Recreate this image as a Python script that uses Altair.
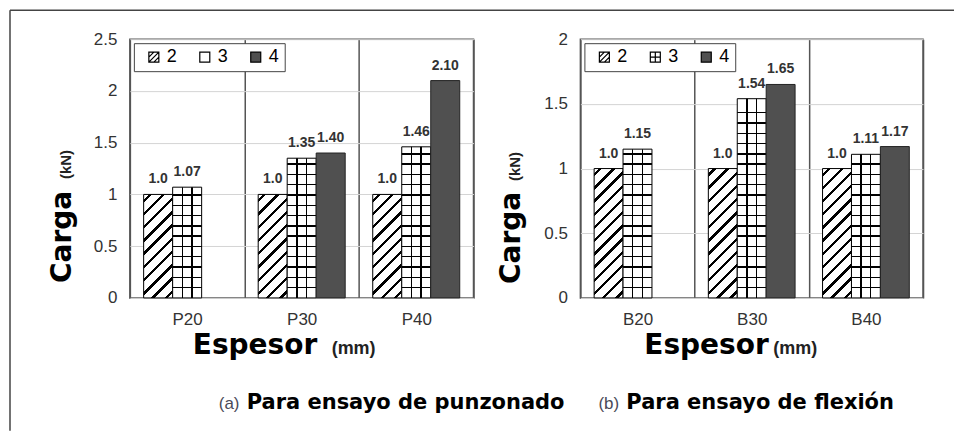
import math
import altair as alt
import pandas as pd

# ---------------- data ----------------
series = ["2", "3", "4"]

cats_a = ["P20", "P30", "P40"]
a_s2 = [1.0, 1.0, 1.0]
a_s3 = [1.07, 1.35, 1.46]
a_s4 = [None, 1.40, 2.10]
a_lab2 = ["1.0", "1.0", "1.0"]
a_lab3 = ["1.07", "1.35", "1.46"]
a_lab4 = [None, "1.40", "2.10"]
ticks_a = [0, 0.5, 1, 1.5, 2, 2.5]

cats_b = ["B20", "B30", "B40"]
b_s2 = [1.0, 1.0, 1.0]
b_s3 = [1.15, 1.54, 1.11]
b_s4 = [None, 1.65, 1.17]
b_lab2 = ["1.0", "1.0", "1.0"]
b_lab3 = ["1.15", "1.54", "1.11"]
b_lab4 = [None, "1.65", "1.17"]
ticks_b = [0, 0.5, 1, 1.5, 2]

# ---------------- layout / style ----------------
PW_A, PW_B, PH, GAP = 344, 343, 259, 107
PAD_OUT = 0.475
DARK = "#505050"

SQ = "M-1,-1H1V1H-1Z"
SYM2 = "M-1,-1H1V1H-1Z M-1,0L0,-1 M-1,1L1,-1 M0,1L1,0"
SYM3_GRID = "M-1,-1H1V1H-1Z M0,-1V1 M-1,0H1"


def bands_stops(bands, bg, fg):
    stops = [{"offset": 0, "color": bg}]
    for c, hw in sorted(bands):
        lo = round(max(0.0, c - hw), 5)
        hi = round(min(1.0, c + hw), 5)
        stops += [{"offset": lo, "color": bg}, {"offset": lo, "color": fg},
                  {"offset": hi, "color": fg}, {"offset": hi, "color": bg}]
    stops.append({"offset": 1, "color": bg})
    return stops


def hatch_grad(w, h, spacing=9.5, thick=2.4):
    d = (w + h) / math.sqrt(2)
    n = max(1, round(d / spacing))
    hw = thick / 2 / d
    bands = [((k + 0.5) / n, hw) for k in range(n)]
    nx, ny = 1 / h, 1 / w
    c = (nx + ny) / (nx * nx + ny * ny)
    return {"gradient": "linear", "x1": 0, "y1": 0,
            "x2": round(c * nx, 5), "y2": round(c * ny, 5),
            "stops": bands_stops(bands, "white", "black")}


def vlines_grad(w, thick=1.4):
    hw = thick / 2 / w
    return {"gradient": "linear", "x1": 0, "y1": 0, "x2": 1, "y2": 0,
            "stops": bands_stops([(1 / 3, hw), (2 / 3, hw)], "white", "black")}


def hlines_grad(h, spacing=10.3, thick=1.4):
    hw = thick / 2 / h
    bands = []
    k = 1
    while k * spacing < h - 4:
        bands.append(((h - k * spacing) / h, hw))
        k += 1
    return {"gradient": "linear", "x1": 0, "y1": 0, "x2": 0, "y2": 1,
            "stops": bands_stops(bands, "transparent", "black")}


one = pd.DataFrame({"k": [0]})


def txt(text, x, y, size, font, weight="bold", color="black", angle=0):
    return alt.Chart(one).mark_text(
        text=text, font=font, fontSize=size, fontWeight=weight, color=color,
        angle=angle, align="left", baseline="alphabetic"
    ).encode(x=alt.value(x), y=alt.value(y))


def panel(cats, v2, v3, v4, l2, l3, l4, ymax, yticks, pw, sym3, titles, frame=False):
    rows = []
    for i, c in enumerate(cats):
        for s, vals, labs in (("2", v2, l2), ("3", v3, l3), ("4", v4, l4)):
            if vals[i] is not None:
                rows.append({"cat": c, "series": s, "value": vals[i], "label": labs[i]})
    df = pd.DataFrame(rows)

    X = alt.X("cat:N", sort=cats,
              scale=alt.Scale(domain=cats, paddingInner=0, paddingOuter=0),
              axis=alt.Axis(title=None, labelAngle=0, labelFont="Liberation Sans",
                            labelFontSize=17, labelColor="#333", labelPadding=14,
                            ticks=False, tickSize=0, domain=False, grid=True,
                            tickBand="extent", gridColor="#555", gridWidth=1.5))
    XO = alt.XOffset("series:N", sort=series,
                     scale=alt.Scale(domain=series, paddingInner=0, paddingOuter=PAD_OUT))
    Y = alt.Y("value:Q", scale=alt.Scale(domain=[0, ymax], nice=False, zero=True),
              axis=alt.Axis(title=None, values=yticks, format=".1~f",
                            labelFont="Liberation Sans", labelFontSize=17,
                            labelColor="#333", labelPadding=13, ticks=False,
                            tickSize=0, domain=False, grid=True,
                            gridColor="#d4d4d4", gridWidth=1))
    base = alt.Chart(df).encode(x=X, xOffset=XO, y=Y)
    w = pw / 3 / (3 + 2 * PAD_OUT)

    layers = []
    if frame:
        layers.append(alt.Chart(one).mark_rule(color="#444", strokeWidth=1.5).encode(
            x=alt.value(-120), x2=alt.value(825), y=alt.value(-29)))
        layers.append(alt.Chart(one).mark_rule(color="#444", strokeWidth=1.5).encode(
            x=alt.value(-120), y=alt.value(-29), y2=alt.value(392)))

    for r in rows:
        h = r["value"] / ymax * PH
        f = (alt.datum.cat == r["cat"]) & (alt.datum.series == r["series"])
        b = base.transform_filter(f)
        if r["series"] == "2":
            layers.append(b.mark_bar(fill=hatch_grad(w, h), stroke="black", strokeWidth=1))
        elif r["series"] == "3":
            layers.append(b.mark_bar(fill=vlines_grad(w), strokeWidth=0))
            layers.append(b.mark_bar(fill=hlines_grad(h), stroke="black", strokeWidth=1))
        else:
            layers.append(b.mark_bar(fill=DARK, stroke="#222", strokeWidth=1))

    layers.append(base.mark_text(dy=-11, baseline="alphabetic", font="Liberation Sans",
                                 fontWeight="bold", fontSize=14, color="#333"
                                 ).encode(text="label:N"))

    leg = alt.Legend(title=None, orient="top-left", direction="horizontal", offset=4,
                     padding=5, strokeColor="#444", fillColor="white",
                     labelFont="Liberation Sans", labelFontSize=18, labelColor="black",
                     symbolSize=100, symbolStrokeWidth=1.2,
                     symbolOffset=6, labelOffset=4, columnPadding=12)
    layers.append(alt.Chart(df).transform_filter("false").mark_point(
        filled=True, size=100, strokeWidth=1.2, opacity=1).encode(
        shape=alt.Shape("series:N", sort=series,
                        scale=alt.Scale(domain=series, range=[SYM2, sym3, SQ]), legend=leg),
        fill=alt.Fill("series:N", sort=series,
                      scale=alt.Scale(domain=series, range=["white", "white", DARK]),
                      legend=leg),
        stroke=alt.Stroke("series:N", sort=series,
                          scale=alt.Scale(domain=series, range=["black", "black", "black"]),
                          legend=leg)))

    layers += titles
    return alt.layer(*layers).properties(width=pw, height=PH)


titles_a = [
    txt("Carga", -59, 244, 28, "DejaVu Sans", angle=270),
    txt("(kN)", -59, 140, 15, "Liberation Sans", color="#222", angle=270),
    txt("Espesor", 63, 315, 28, "DejaVu Sans"),
    txt("(mm)", 202, 315, 18, "Liberation Sans", color="#222"),
    txt("(a)", 89, 370, 17, "Liberation Sans", weight="normal", color="#4a4a58"),
    txt("Para ensayo de punzonado", 117, 370, 21, "DejaVu Sans"),
]
titles_b = [
    txt("Carga", -60, 245, 28, "DejaVu Sans", angle=270),
    txt("(kN)", -60, 142, 15, "Liberation Sans", color="#222", angle=270),
    txt("Espesor", 64, 315, 28, "DejaVu Sans"),
    txt("(mm)", 193, 315, 18, "Liberation Sans", color="#222"),
    txt("(b)", 18, 370, 17, "Liberation Sans", weight="normal", color="#4a4a58"),
    txt("Para ensayo de flexión", 46, 370, 21, "DejaVu Sans"),
]

pa = panel(cats_a, a_s2, a_s3, a_s4, a_lab2, a_lab3, a_lab4, 2.5, ticks_a, PW_A, SQ,
           titles_a, frame=True)
pb = panel(cats_b, b_s2, b_s3, b_s4, b_lab2, b_lab3, b_lab4, 2.0, ticks_b, PW_B, SYM3_GRID,
           titles_b)

chart = alt.hconcat(pa, pb, spacing=GAP, bounds="flush").resolve_scale(
    x="independent", y="independent", xOffset="independent",
    fill="independent", shape="independent", stroke="independent"
).resolve_legend(fill="independent", shape="independent", stroke="independent").properties(
    padding=0
).configure_view(stroke="#555", strokeWidth=1.5)

chart.save("out.html", embed_options={"renderer": "svg", "actions": False})
